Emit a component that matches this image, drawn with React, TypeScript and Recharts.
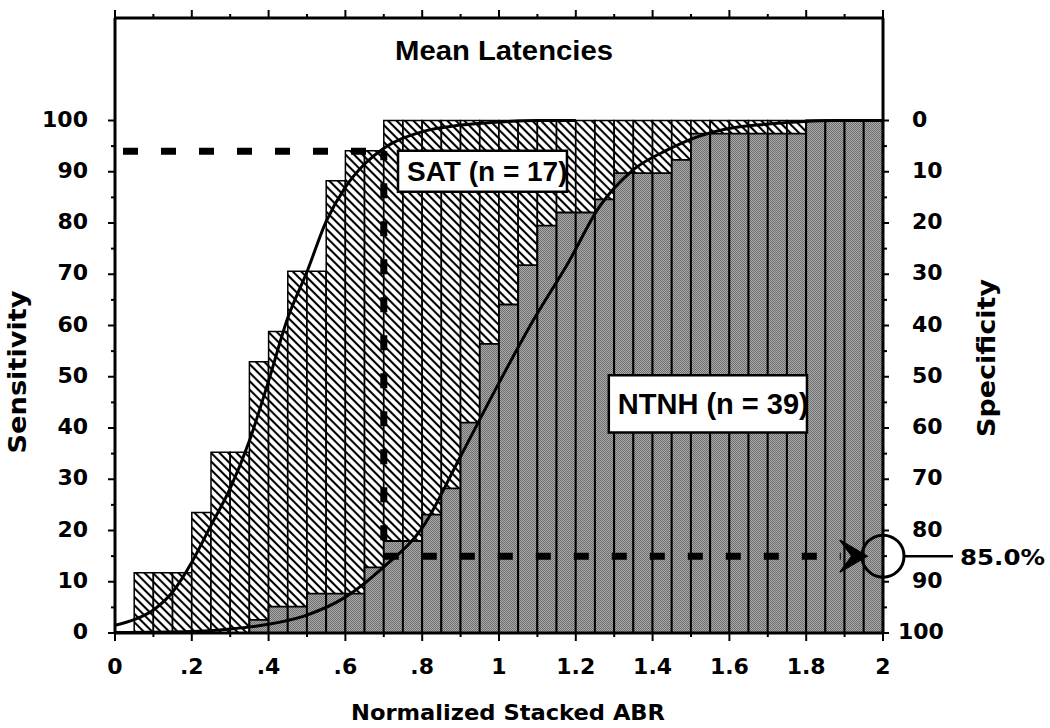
import React from 'react';
import {
  ComposedChart,
  Bar,
  Line,
  XAxis,
  YAxis,
  ReferenceLine,
  ReferenceDot,
  ReferenceArea,
} from 'recharts';

// ---------- data ----------
const binStarts = [
  '0', '0.05', '0.10', '0.15', '0.20', '0.25', '0.30', '0.35', '0.40', '0.45',
  '0.50', '0.55', '0.60', '0.65', '0.70', '0.75', '0.80', '0.85', '0.90', '0.95',
  '1.00', '1.05', '1.10', '1.15', '1.20', '1.25', '1.30', '1.35', '1.40', '1.45',
  '1.50', '1.55', '1.60', '1.65', '1.70', '1.75', '1.80', '1.85', '1.90', '1.95',
];

// SAT (n = 17) cumulative %
const satValues = [
  0, 11.76, 11.76, 11.76, 23.53, 35.29, 35.29, 52.94, 58.82, 70.59,
  70.59, 88.24, 94.12, 94.12, 100, 100, 100, 100, 100, 100,
  100, 100, 100, 100, 100, 100, 100, 100, 100, 100,
  100, 100, 100, 100, 100, 100, 100, 100, 100, 100,
];

// NTNH (n = 39) cumulative %
const ntnhValues = [
  0, 0, 0, 0, 0, 0, 0, 2.56, 5.13, 5.13,
  7.69, 7.69, 7.69, 12.82, 17.95, 17.95, 23.08, 28.21, 41.03, 56.41,
  64.1, 71.79, 79.49, 82.05, 82.05, 84.62, 89.74, 89.74, 89.74, 92.31,
  97.44, 97.44, 97.44, 97.44, 97.44, 97.44, 100, 100, 100, 100,
];

// fitted curves
const satCurveX = [0, 0.05, 0.1, 0.15, 0.2, 0.25, 0.3, 0.35, 0.4, 0.45, 0.5, 0.55, 0.6, 0.65, 0.7, 0.8, 0.9, 1.0, 1.1, 1.2];
const satCurveY = [1.5, 2.6, 4.5, 8.0, 13.8, 21.0, 28.2, 37.5, 49.2, 61.5, 70.5, 80.3, 87.0, 91.5, 94.6, 97.8, 99.1, 99.7, 100, 100];

const ntnhCurveX = [0, 0.2, 0.3, 0.4, 0.5, 0.6, 0.7, 0.8, 0.9, 1.0, 1.09, 1.18, 1.26, 1.35, 1.44, 1.52, 1.61, 1.7, 1.87, 2.0];
const ntnhCurveY = [0.1, 0.3, 0.8, 1.7, 3.5, 7.0, 12.9, 20.5, 34.5, 48.8, 61.1, 72.2, 83.0, 90.4, 94.3, 96.9, 98.6, 99.3, 100, 100];

const xTicks = [0, 0.1, 0.2, 0.3, 0.4, 0.5, 0.6, 0.7, 0.8, 0.9, 1, 1.1, 1.2, 1.3, 1.4, 1.5, 1.6, 1.7, 1.8, 1.9, 2];
const xTickLabels = ['0', '.2', '.4', '.6', '.8', '1', '1.2', '1.4', '1.6', '1.8', '2'];
const sensTicks = [0, 5, 10, 15, 20, 25, 30, 35, 40, 45, 50, 55, 60, 65, 70, 75, 80, 85, 90, 95, 100];
const specTicks = [0, 5, 10, 15, 20, 25, 30, 35, 40, 45, 50, 55, 60, 65, 70, 75, 80, 85, 90, 95, 100];

// annotations
const cutoffX = 0.7;
const sensLevel = 94;
const specLevel = 15; // sensitivity-scale value of 85% specificity line
const arrowTipX = 1.958;
const dashEndX = 1.89;
const satBox = { x1: 0.737, x2: 1.177, y1: 86.1, y2: 94.1 };
const ntnhBox = { x1: 1.286, x2: 1.802, y1: 39.1, y2: 50.3 };

const binData = binStarts.map((b, i) => ({ bin: b, sat: satValues[i], ntnh: ntnhValues[i] }));
const satCurve = satCurveX.map((x, i) => ({ x, y: satCurveY[i] }));
const ntnhCurve = ntnhCurveX.map((x, i) => ({ x, y: ntnhCurveY[i] }));

const TICK_FONT = 'DejaVu Sans, Verdana, sans-serif';
const LABEL_FONT = 'Liberation Sans, Arial, Helvetica, sans-serif';

// ---------- custom ticks ----------
const BottomTick = (props: any) => {
  const { x, y, payload } = props;
  const k = Math.round(payload.value * 10);
  const major = k % 2 === 0;
  return (
    <g>
      <line x1={x} x2={x} y1={y} y2={y + (major ? 8 : 4)} stroke="#000" strokeWidth={2} />
      {major && (
        <text x={x} y={y + 41} textAnchor="middle" fontFamily={TICK_FONT} fontWeight="bold" fontSize={22} fill="#000">
          {xTickLabels[k / 2]}
        </text>
      )}
    </g>
  );
};

const TopTick = (props: any) => {
  const { x, y, payload } = props;
  const k = Math.round(payload.value * 10);
  const major = k % 2 === 0;
  return <line x1={x} x2={x} y1={y} y2={y - (major ? 8 : 4)} stroke="#000" strokeWidth={2} />;
};

const LeftTick = (props: any) => {
  const { x, y, payload } = props;
  const v = payload.value;
  const major = v % 10 === 0;
  return (
    <g>
      <line x1={x} x2={x - (major ? 7 : 4)} y1={y} y2={y} stroke="#000" strokeWidth={2} />
      {major && (
        <text x={x - 27} y={y + 6} textAnchor="end" fontFamily={TICK_FONT} fontWeight="bold" fontSize={22} fill="#000">
          {v}
        </text>
      )}
    </g>
  );
};

const RightTick = (props: any) => {
  const { x, y, payload } = props;
  const v = payload.value;
  const major = v % 10 === 0;
  return (
    <g>
      <line x1={x} x2={x + (major ? 6 : 4)} y1={y} y2={y} stroke="#000" strokeWidth={2} />
      {major && (
        <text x={x + (v === 100 ? 15 : 29)} y={y + 6} textAnchor="start" fontFamily={TICK_FONT} fontWeight="bold" fontSize={22} fill="#000">
          {v}
        </text>
      )}
    </g>
  );
};

// ---------- custom labels ----------
const FixedText = (props: any) => {
  const { tx, ty, text, size, family, len, rot } = props;
  return (
    <text
      x={tx}
      y={ty}
      textAnchor="middle"
      dominantBaseline={rot ? 'central' : undefined}
      transform={rot ? `rotate(-90, ${tx}, ${ty})` : undefined}
      fontFamily={family}
      fontWeight="bold"
      fontSize={size}
      fill="#000"
      textLength={len}
      lengthAdjust="spacingAndGlyphs"
    >
      {text}
    </text>
  );
};

const BoxText = (props: any) => {
  const { viewBox, text, size } = props;
  if (!viewBox) return null;
  const { x, y, height } = viewBox;
  return (
    <text x={x + 9} y={y + height / 2 + 10} fontFamily={LABEL_FONT} fontWeight="bold" fontSize={size} fill="#000">
      {text}
    </text>
  );
};

const PercentLabel = (props: any) => {
  const { viewBox } = props;
  if (!viewBox) return null;
  const cx = viewBox.x + viewBox.width / 2;
  const cy = viewBox.y + viewBox.height / 2;
  const r = viewBox.width / 2;
  return (
    <g>
      <line x1={cx + r} x2={cx + 70} y1={cy} y2={cy} stroke="#000" strokeWidth={2.5} />
      <text x={cx + 77} y={cy + 9} fontFamily={TICK_FONT} fontWeight="bold" fontSize={21} fill="#000" textLength={85} lengthAdjust="spacingAndGlyphs">
        85.0%
      </text>
    </g>
  );
};

const ArrowHead = (props: any) => {
  const { cx, cy } = props;
  if (cx == null || cy == null) return null;
  const pts = `${cx},${cy} ${cx - 27},${cy - 16} ${cx - 15},${cy} ${cx - 27},${cy + 16}`;
  return <polygon points={pts} fill="#000" stroke="#000" strokeWidth={1.5} strokeLinejoin="miter" />;
};

const axisLineStyle = { stroke: '#000', strokeWidth: 3 };

export default function App() {
  return (
    <div style={{ position: 'absolute', left: 0, top: 0, width: 1050, height: 728, background: '#fff' }}>
      <ComposedChart
        width={1050}
        height={728}
        data={binData}
        margin={{ top: 8, right: 107, bottom: 35, left: 55 }}
        barCategoryGap={0}
        barGap={0}
      >
        <defs>
          <pattern id="hatch" patternUnits="userSpaceOnUse" width="6" height="6" patternTransform="rotate(-45)">
            <rect width="6" height="6" fill="#fff" />
            <line x1="3" y1="0" x2="3" y2="6" stroke="#000" strokeWidth="2.1" />
          </pattern>
          <pattern id="dots" patternUnits="userSpaceOnUse" width="2" height="2">
            <rect width="2" height="2" fill="#aaaaaa" />
            <rect width="1" height="1" fill="#6e6e6e" />
            <rect x="1" y="1" width="1" height="1" fill="#6e6e6e" />
          </pattern>
        </defs>

        <XAxis xAxisId="c1" dataKey="bin" hide height={0} />
        <XAxis xAxisId="c2" dataKey="bin" hide height={0} />
        <XAxis
          xAxisId="num"
          type="number"
          dataKey="x"
          domain={[0, 2]}
          allowDataOverflow
          ticks={xTicks}
          interval={0}
          tick={<BottomTick />}
          tickLine={false}
          tickSize={0}
          tickMargin={0}
          axisLine={axisLineStyle}
          height={60}
          label={<FixedText tx={508} ty={720} text="Normalized Stacked ABR" size={22} family={TICK_FONT} len={314} />}
        />
        <XAxis
          xAxisId="top"
          orientation="top"
          type="number"
          dataKey="x"
          domain={[0, 2]}
          allowDataOverflow
          ticks={xTicks}
          interval={0}
          tick={<TopTick />}
          tickLine={false}
          tickSize={0}
          tickMargin={0}
          axisLine={axisLineStyle}
          height={10}
          label={<FixedText tx={504} ty={60} text="Mean Latencies" size={28} family={LABEL_FONT} len={218} />}
        />
        <YAxis
          yAxisId="left"
          type="number"
          domain={[0, 120]}
          allowDataOverflow
          ticks={sensTicks}
          interval={0}
          tick={<LeftTick />}
          tickLine={false}
          tickSize={0}
          tickMargin={0}
          axisLine={axisLineStyle}
          width={60}
          label={<FixedText tx={18} ty={372} text="Sensitivity" size={24} family={TICK_FONT} len={163} rot />}
        />
        <YAxis
          yAxisId="right"
          orientation="right"
          type="number"
          domain={[-20, 100]}
          reversed
          allowDataOverflow
          ticks={specTicks}
          interval={0}
          tick={<RightTick />}
          tickLine={false}
          tickSize={0}
          tickMargin={0}
          axisLine={axisLineStyle}
          width={60}
          label={<FixedText tx={987} ty={358} text="Specificity" size={24} family={TICK_FONT} len={158} rot />}
        />

        <Bar xAxisId="c1" yAxisId="left" dataKey="sat" fill="url(#hatch)" stroke="#000" strokeWidth={1.5} isAnimationActive={false} />
        <Bar xAxisId="c2" yAxisId="left" dataKey="ntnh" fill="url(#dots)" stroke="#000" strokeWidth={1.8} isAnimationActive={false} />

        <Line xAxisId="num" yAxisId="left" data={satCurve} dataKey="y" type="monotone" stroke="#000" strokeWidth={3} dot={false} activeDot={false} isAnimationActive={false} />
        <Line xAxisId="num" yAxisId="left" data={ntnhCurve} dataKey="y" type="monotone" stroke="#000" strokeWidth={3} dot={false} activeDot={false} isAnimationActive={false} />

        <ReferenceLine
          xAxisId="num"
          yAxisId="left"
          segment={[{ x: 0, y: sensLevel }, { x: cutoffX, y: sensLevel }]}
          stroke="#000"
          strokeWidth={7}
          strokeDasharray="15 23"
          strokeDashoffset={30}
        />
        <ReferenceLine
          xAxisId="num"
          yAxisId="left"
          segment={[{ x: cutoffX, y: sensLevel }, { x: cutoffX, y: specLevel }]}
          stroke="#000"
          strokeWidth={7}
          strokeDasharray="15 23"
          strokeDashoffset={6}
        />
        <ReferenceLine
          xAxisId="num"
          yAxisId="left"
          segment={[{ x: cutoffX, y: specLevel }, { x: dashEndX, y: specLevel }]}
          stroke="#000"
          strokeWidth={7}
          strokeDasharray="15 23"
        />

        <ReferenceArea
          xAxisId="num"
          yAxisId="left"
          x1={satBox.x1}
          x2={satBox.x2}
          y1={satBox.y1}
          y2={satBox.y2}
          fill="#fff"
          fillOpacity={1}
          stroke="#000"
          strokeWidth={2.5}
          ifOverflow="visible"
          zIndex={1500}
          label={<BoxText text="SAT (n = 17)" size={28} />}
        />
        <ReferenceArea
          xAxisId="num"
          yAxisId="left"
          x1={ntnhBox.x1}
          x2={ntnhBox.x2}
          y1={ntnhBox.y1}
          y2={ntnhBox.y2}
          fill="#fff"
          fillOpacity={1}
          stroke="#000"
          strokeWidth={2.5}
          ifOverflow="visible"
          zIndex={1500}
          label={<BoxText text="NTNH (n = 39)" size={29} />}
        />

        <ReferenceDot
          xAxisId="num"
          yAxisId="left"
          x={arrowTipX}
          y={specLevel}
          r={1}
          ifOverflow="visible"
          shape={(p: any) => <ArrowHead {...p} />}
        />
        <ReferenceDot
          xAxisId="num"
          yAxisId="left"
          x={2}
          y={specLevel}
          r={21}
          fill="none"
          stroke="#000"
          strokeWidth={3}
          ifOverflow="visible"
          label={<PercentLabel />}
        />
      </ComposedChart>
    </div>
  );
}
